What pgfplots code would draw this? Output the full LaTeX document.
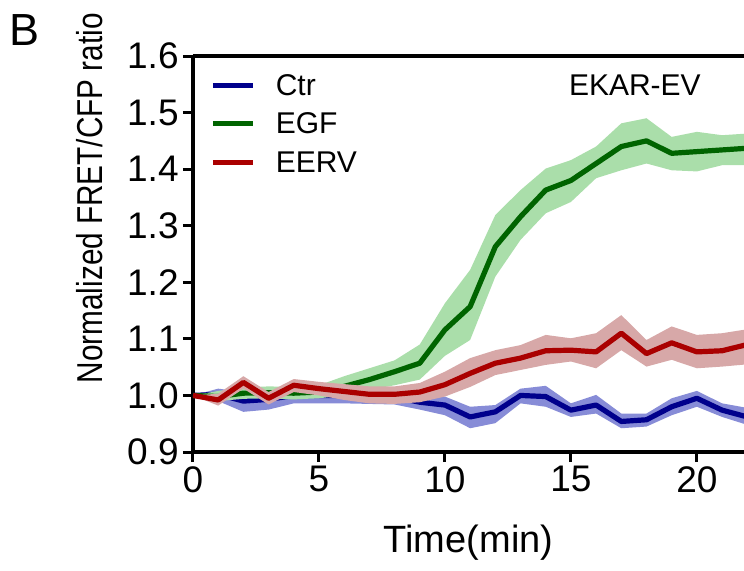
\documentclass[border=0pt]{standalone}
\usepackage{fontspec}
\setmainfont{Liberation Sans}
\usepackage{graphicx}
\usepackage{pgfplots}
\usepackage{pgfplotstable}
\pgfplotsset{compat=1.18}
\usepgfplotslibrary{fillbetween}
\tikzset{fill between/on layer=main}

\definecolor{ctrline}{RGB}{0,0,140}
\definecolor{egfline}{RGB}{0,100,0}
\definecolor{eervline}{RGB}{170,0,0}
\definecolor{ctrband}{RGB}{135,140,215}
\definecolor{egfband}{RGB}{170,222,170}
\definecolor{eervband}{RGB}{215,168,168}

% t  mean  lo  hi
\pgfplotstableread{
t mean lo hi
0 1.000 1.000 1.000
1 1.002 0.990 1.012
2 0.990 0.971 1.006
3 0.993 0.975 1.008
4 1.000 0.986 1.012
5 1.000 0.986 1.012
6 1.000 0.986 1.012
7 0.999 0.985 1.011
8 0.997 0.984 1.009
9 0.988 0.975 1.000
10 0.983 0.965 0.998
11 0.962 0.942 0.980
12 0.971 0.951 0.983
13 1.000 0.986 1.012
14 0.998 0.980 1.017
15 0.974 0.962 0.986
16 0.983 0.968 1.001
17 0.954 0.942 0.968
18 0.957 0.945 0.968
19 0.980 0.965 0.995
20 0.995 0.980 1.008
21 0.974 0.962 0.986
22 0.962 0.948 0.978
}\ctr

\pgfplotstableread{
t mean lo hi
0 1.000 1.000 1.000
1 0.998 0.990 1.008
2 1.004 0.994 1.014
3 1.005 0.995 1.016
4 1.004 0.993 1.015
5 1.006 0.995 1.018
6 1.016 1.000 1.034
7 1.028 1.010 1.048
8 1.042 1.018 1.062
9 1.057 1.028 1.090
10 1.116 1.070 1.163
11 1.157 1.098 1.222
12 1.263 1.210 1.319
13 1.316 1.275 1.363
14 1.363 1.322 1.401
15 1.380 1.342 1.416
16 1.410 1.384 1.440
17 1.440 1.398 1.481
18 1.450 1.410 1.490
19 1.428 1.398 1.457
20 1.431 1.396 1.466
21 1.434 1.407 1.460
22 1.437 1.407 1.463
}\egf

\pgfplotstableread{
t mean lo hi
0 1.000 1.000 1.000
1 0.992 0.982 1.003
2 1.023 1.012 1.034
3 0.995 0.984 1.006
4 1.018 1.006 1.029
5 1.012 1.000 1.024
6 1.007 0.992 1.020
7 1.002 0.986 1.016
8 1.002 0.985 1.016
9 1.006 0.988 1.022
10 1.019 0.998 1.042
11 1.039 1.015 1.066
12 1.057 1.036 1.080
13 1.066 1.045 1.089
14 1.079 1.054 1.107
15 1.080 1.060 1.101
16 1.077 1.048 1.110
17 1.110 1.080 1.142
18 1.074 1.051 1.098
19 1.093 1.063 1.122
20 1.077 1.048 1.107
21 1.079 1.051 1.110
22 1.090 1.055 1.117
}\eerv

\begin{document}
\begin{tikzpicture}
\begin{axis}[
    name=main,
    at={(0,0)}, anchor=south west,
    scale only axis,
    width=275.5pt, height=198pt,
    xmin=0, xmax=21.87,
    ymin=0.9, ymax=1.6,
    axis x line*=bottom, axis y line*=left,
    axis line style={-, line width=1.6pt},
    xtick={0,5,10,15,20},
    ytick={0.9,1.0,1.1,1.2,1.3,1.4,1.5,1.6},
    yticklabel style={/pgf/number format/.cd, fixed, fixed zerofill, precision=1},
    /pgf/number format/assume math mode=true,
    tick align=outside,
    major tick length=5pt,
    tick style={line width=1.5pt, black},
    ticklabel style={font=\fontsize{18.5}{22}\selectfont, inner sep=2pt},
    xlabel={Time(min)},
    ylabel={\scalebox{0.826}[1]{Normalized FRET/CFP ratio}},
    every axis x label/.style={at={(axis description cs:0.5,-0.255)}, anchor=base,
        font=\fontsize{19}{23}\selectfont},
    every axis y label/.style={at={(axis description cs:-0.165,0.641)}, anchor=base,
        rotate=90, font=\fontsize{18}{22}\selectfont},
    clip=true,
]
% Ctr
\addplot[name path=cu, draw=none, forget plot] table[x=t, y=hi] {\ctr};
\addplot[name path=cl, draw=none, forget plot] table[x=t, y=lo] {\ctr};
\addplot[ctrband, draw=none, forget plot] fill between[of=cu and cl];
\addplot[ctrline, line width=2.6pt, line join=round] table[x=t, y=mean] {\ctr};
% EGF
\addplot[name path=gu, draw=none, forget plot] table[x=t, y=hi] {\egf};
\addplot[name path=gl, draw=none, forget plot] table[x=t, y=lo] {\egf};
\addplot[egfband, draw=none, forget plot] fill between[of=gu and gl];
\addplot[egfline, line width=2.6pt, line join=round] table[x=t, y=mean] {\egf};
% EERV
\addplot[name path=ru, draw=none, forget plot] table[x=t, y=hi] {\eerv};
\addplot[name path=rl, draw=none, forget plot] table[x=t, y=lo] {\eerv};
\addplot[eervband, draw=none, forget plot] fill between[of=ru and rl];
\addplot[eervline, line width=2.6pt, line join=round] table[x=t, y=mean] {\eerv};
\end{axis}

% top frame line
\draw[line width=1.6pt] (main.north west) -- (main.north east);

% legend
\draw[ctrline, line width=2.5pt] (10pt,183.5pt) -- (30pt,183.5pt);
\draw[egfline, line width=2.5pt] (10pt,164.5pt) -- (30pt,164.5pt);
\draw[eervline, line width=2.5pt] (10pt,145pt) -- (30pt,145pt);
\begin{scope}[every node/.style={inner sep=0pt, anchor=base west, font=\fontsize{15}{18}\selectfont}]
\node at (41.2pt,178.5pt) {Ctr};
\node at (41.2pt,159.5pt) {EGF};
\node at (41.2pt,140pt) {EERV};
\node at (187.8pt,178.5pt) {EKAR-EV};
\end{scope}

% panel letter
\node[inner sep=0pt, anchor=base west, font=\fontsize{22.5}{26}\selectfont] at (-92pt,203.5pt) {B};

\pgfresetboundingbox
\path[use as bounding box] (-96.5pt,-59pt) rectangle (275.5pt,226pt);
\end{tikzpicture}
\end{document}
